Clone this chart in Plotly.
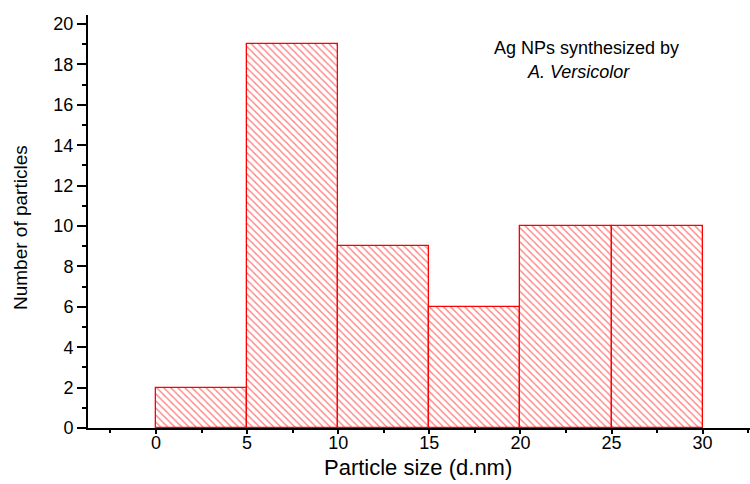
import plotly.graph_objects as go

bin_left = [0, 5, 10, 15, 20, 25]
bin_width = 5
counts = [2, 19, 9, 6, 10, 10]
x_ticks = [0, 5, 10, 15, 20, 25, 30]
x_minor = [-2.5, 2.5, 7.5, 12.5, 17.5, 22.5, 27.5, 32.5]
y_ticks = [0, 2, 4, 6, 8, 10, 12, 14, 16, 18, 20]

centers = [b + bin_width / 2 for b in bin_left]

W, H = 750, 484
L, T, B, R = 88, 15, 56, 0

fig = go.Figure()
fig.add_trace(go.Bar(
    x=centers, y=counts, width=[bin_width] * len(counts),
    marker=dict(
        color="white",
        line=dict(color="#ff0000", width=1.3),
        pattern=dict(shape="\\", fgcolor="#ff0000", bgcolor="white", size=5, solidity=0.28, fillmode="overlay"),
    ),
    showlegend=False,
    hoverinfo="skip",
))

fig.update_layout(
    width=W, height=H,
    margin=dict(l=L, r=R, t=T, b=B, autoexpand=False),
    plot_bgcolor="white", paper_bgcolor="white",
    font=dict(family="Liberation Sans, Arial", color="black", size=18),
    bargap=0,
    xaxis=dict(
        range=[-3.73, 32.6], tickvals=x_ticks, ticktext=[str(v) for v in x_ticks],
        showgrid=False, zeroline=False, showline=True, linecolor="black", linewidth=2,
        ticks="outside", ticklen=4, tickwidth=1.5, tickcolor="black", automargin=False,
        ticklabelstandoff=-7,
        minor=dict(tickvals=x_minor, ticks="outside", ticklen=3, tickwidth=1.5, tickcolor="black"),
        tickfont=dict(size=18),
    ),
    yaxis=dict(
        range=[0, 20.45], tickvals=y_ticks, ticktext=[str(v) for v in y_ticks],
        showgrid=False, zeroline=False, showline=True, linecolor="black", linewidth=2,
        ticks="outside", ticklen=9, tickwidth=1.5, tickcolor="black", automargin=False,
        minor=dict(dtick=1, ticks="outside", ticklen=4, tickwidth=1.5, tickcolor="black"),
        tickfont=dict(size=18),
    ),
)
pw = W - L - R
ph = H - T - B
def px(x):
    return (x - L) / pw
def py(y):
    return 1 - (y - T) / ph

fig.layout.annotations = [
    dict(text="Ag NPs synthesized by", x=px(492), y=py(48), xref="paper", yref="paper",
         xanchor="left", yanchor="middle", showarrow=False, font=dict(size=18)),
    dict(text="<i>A. Versicolor</i>", x=px(525), y=py(72), xref="paper", yref="paper",
         xanchor="left", yanchor="middle", showarrow=False, font=dict(size=18)),
    dict(text="Particle size (d.nm)", x=px(418), y=py(467), xref="paper", yref="paper",
         xanchor="center", yanchor="middle", showarrow=False, font=dict(size=22)),
    dict(text="Number of particles", x=px(20), y=py(228), xref="paper", yref="paper",
         xanchor="center", yanchor="middle", showarrow=False, textangle=-90, font=dict(size=19)),
]

fig.write_html(
    "out.html",
    config={"displayModeBar": False},
    post_script="document.body.style.margin='0';document.body.style.overflow='hidden';",
)
